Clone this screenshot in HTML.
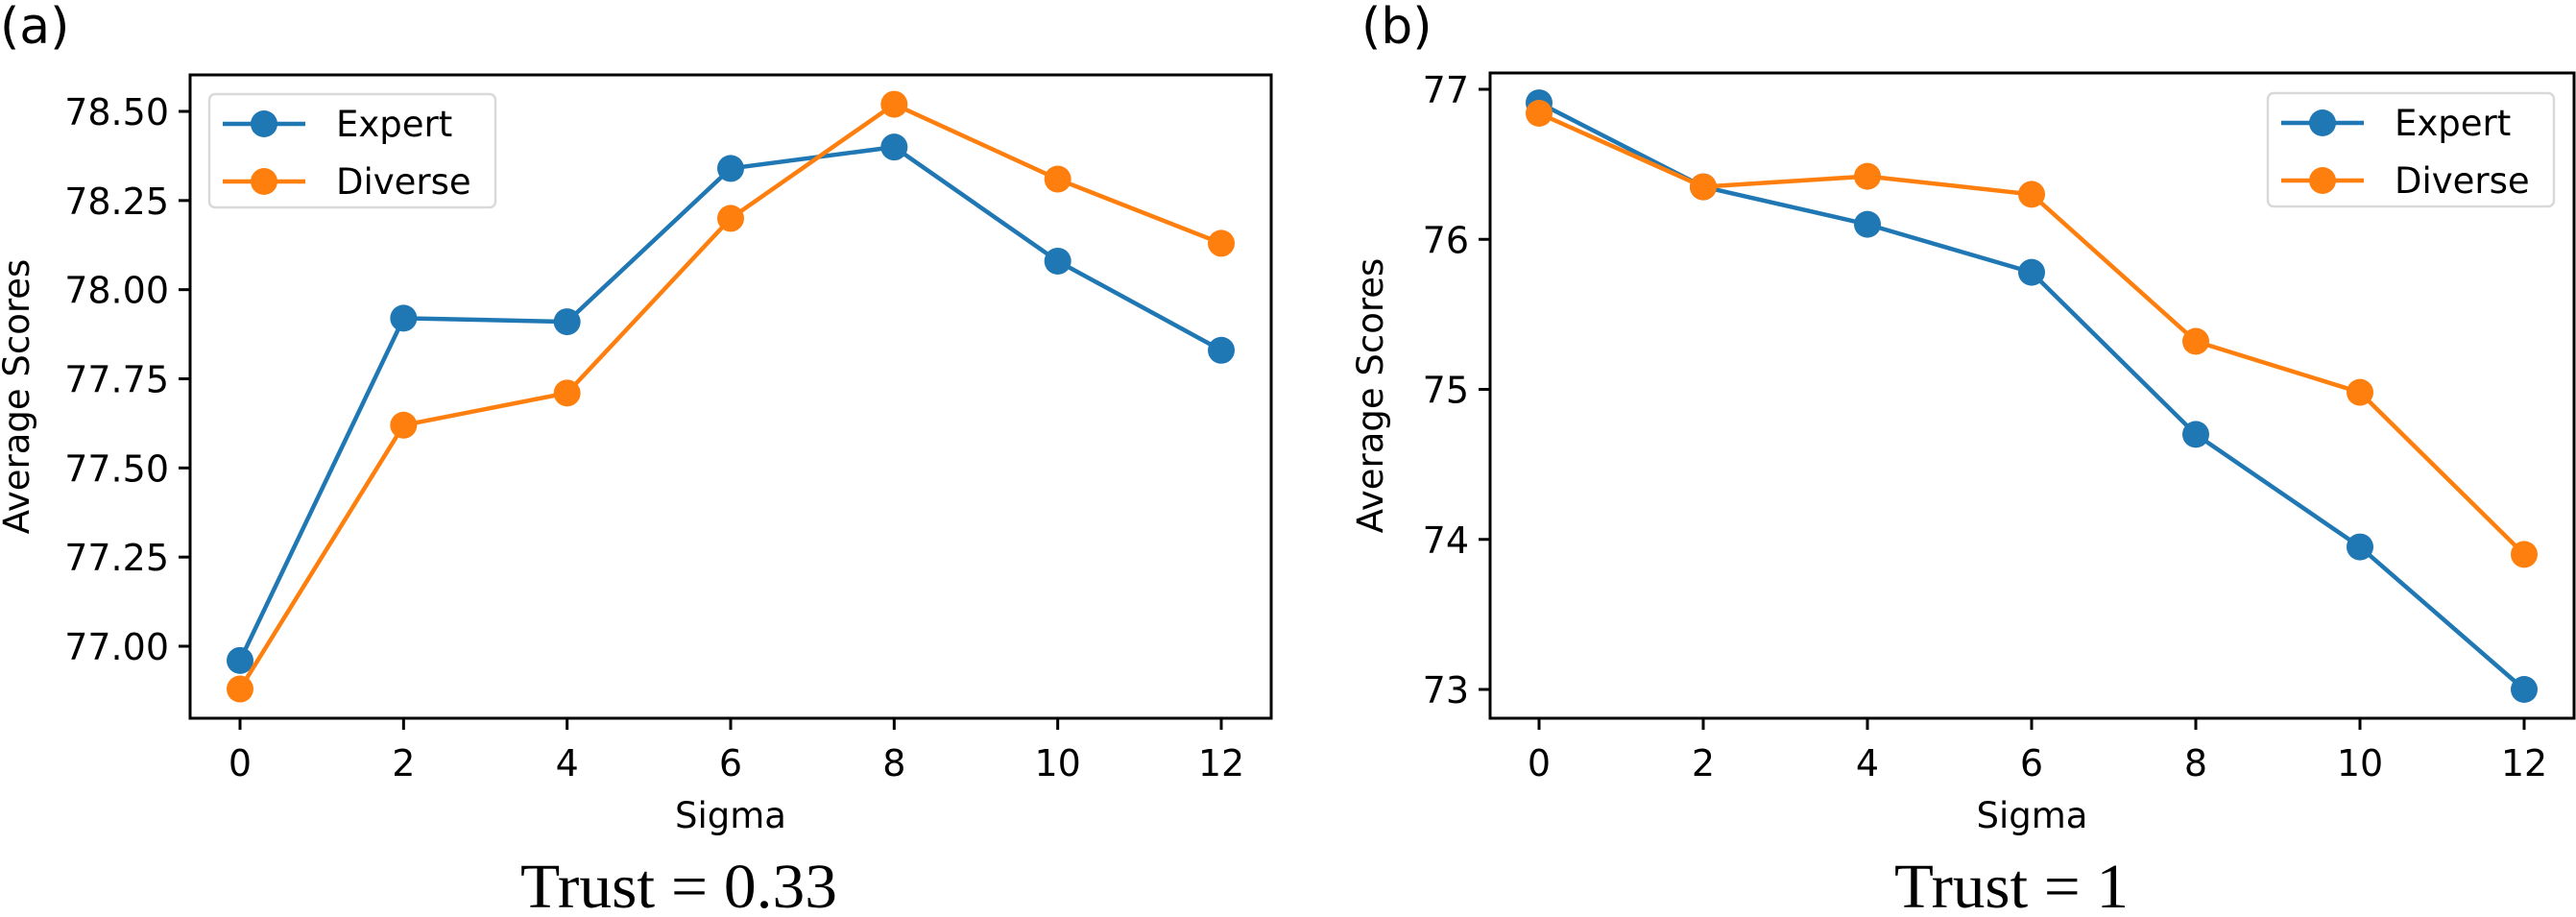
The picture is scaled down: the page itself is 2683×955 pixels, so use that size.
<!DOCTYPE html>
<html><head><meta charset="utf-8"><style>
html,body{margin:0;padding:0;background:#fff;}
svg{display:block;}
text{font-family:"DejaVu Sans","Liberation Sans",sans-serif;fill:#000;}
</style></head>
<body>
<svg id="chart" width="2683" height="955" viewBox="0 0 2683 955" xmlns="http://www.w3.org/2000/svg"></svg>
<script>
const sigmas = [0, 2, 4, 6, 8, 10, 12];
const xTicks = [0, 2, 4, 6, 8, 10, 12];
const expertA = [76.96, 77.92, 77.91, 78.34, 78.40, 78.08, 77.83];
const diverseA = [76.88, 77.62, 77.71, 78.20, 78.52, 78.31, 78.13];
const yTicksA = [77.00, 77.25, 77.50, 77.75, 78.00, 78.25, 78.50];
const expertB = [76.91, 76.35, 76.10, 75.78, 74.70, 73.95, 73.00];
const diverseB = [76.84, 76.35, 76.42, 76.30, 75.32, 74.98, 73.90];
const yTicksB = [73, 74, 75, 76, 77];
const seriesNames = ["Expert", "Diverse"];

const NS = "http://www.w3.org/2000/svg";
const svg = document.getElementById("chart");
function el(tag, attrs, parent) {
  const e = document.createElementNS(NS, tag);
  for (const k in attrs) e.setAttribute(k, attrs[k]);
  (parent || svg).appendChild(e);
  return e;
}
const colors = ["#1f77b4", "#ff7f0e"];

function panel(cfg) {
  const g = el("g", {});
  
  
  const xs = v => cfg.x0 + (v - 0) * (cfg.x12 - cfg.x0) / 12;
  const ys = v => cfg.yA + (v - cfg.vA) * (cfg.yB - cfg.yA) / (cfg.vB - cfg.vA);
  const frame = el("rect", {x: cfg.L, y: cfg.T, width: cfg.R - cfg.L, height: cfg.B - cfg.T, fill: "none", stroke: "#000", "stroke-width": 3}, g);
  
  
  xTicks.forEach(t => {
    const x = xs(t);
    const tk = el("line", {x1: x, x2: x, y1: cfg.B, y2: cfg.B + 12, stroke: "#000", "stroke-width": 3}, g);
    
    
    const lb = el("text", {x: x, y: 808, "font-size": 38, "text-anchor": "middle"}, g);
    lb.textContent = t;
    
    
  });
  cfg.yTicks.forEach(t => {
    const y = ys(t);
    const tk = el("line", {x1: cfg.L - 12, x2: cfg.L, y1: y, y2: y, stroke: "#000", "stroke-width": 3}, g);
    
    
    const lb = el("text", {x: cfg.L - 22, y: y + 14, "font-size": 38, "text-anchor": "end"}, g);
    lb.textContent = t.toFixed(cfg.dec);
    
    
  });
  [cfg.s1, cfg.s2].forEach((data, i) => {
    const pts = data.map((v, j) => xs(sigmas[j]) + "," + ys(v)).join(" ");
    const pl = el("polyline", {points: pts, fill: "none", stroke: colors[i], "stroke-width": 4.5}, g);
    
    
    data.forEach((v, j) => {
      const c = el("circle", {cx: xs(sigmas[j]), cy: ys(v), r: 14, fill: colors[i]}, g);
      
      
    });
  });
  const xl = el("text", {x: (cfg.L + cfg.R) / 2, y: 862, "font-size": 37, "text-anchor": "middle"}, g);
  xl.textContent = "Sigma";
  
  
  const yl = el("text", {x: 0, y: 0, "font-size": 37, "text-anchor": "middle", transform: `translate(${cfg.ylx},${(cfg.T + cfg.B) / 2}) rotate(-90)`}, g);
  yl.textContent = "Average Scores";
  
  
  const tt = el("text", {x: cfg.tx - cfg.tw / 2, y: 945, "font-size": 66, textLength: cfg.tw, lengthAdjust: "spacingAndGlyphs", style: "font-family:'Liberation Serif',serif"}, g);
  tt.textContent = cfg.title;
  
  
  const pl = el("text", {x: cfg.plx, y: 45, "font-size": 52}, g);
  pl.textContent = cfg.panelLabel;
  
  
  const lg = el("g", {}, g);
  
  
  el("rect", {x: cfg.lgx, y: cfg.lgy, width: 298, height: 118, rx: 6, fill: "#fff", stroke: "#d9d9d9", "stroke-width": 2.5, "fill-opacity": 0.8}, lg);
  seriesNames.forEach((n, i) => {
    const y = cfg.lgy + 31 + i * 60;
    const e = el("g", {}, lg);
    
    
    el("line", {x1: cfg.lgx + 14, x2: cfg.lgx + 100, y1: y, y2: y, stroke: colors[i], "stroke-width": 4.5}, e);
    el("circle", {cx: cfg.lgx + 57, cy: y, r: 14, fill: colors[i]}, e);
    const t = el("text", {x: cfg.lgx + 132, y: y + 13, "font-size": 37}, e);
    t.textContent = n;
  });
}

panel({name: "panel-a", L: 198, R: 1324, T: 78, B: 748, x0: 250, x12: 1272,
  yA: 673, vA: 77.0, yB: 116, vB: 78.5, yTicks: yTicksA, dec: 2,
  s1: expertA, s2: diverseA, ylx: 30, tx: 707, tw: 330, title: "Trust = 0.33",
  plx: 0, panelLabel: "(a)", lgx: 218, lgy: 98});
panel({name: "panel-b", L: 1552, R: 2681, T: 76, B: 748, x0: 1603, x12: 2629,
  yA: 718, vA: 73, yB: 93, vB: 77, yTicks: yTicksB, dec: 0,
  s1: expertB, s2: diverseB, ylx: 1440, tx: 2095, tw: 244, title: "Trust = 1",
  plx: 1418, panelLabel: "(b)", lgx: 2362, lgy: 97});
</script>
</body></html>
